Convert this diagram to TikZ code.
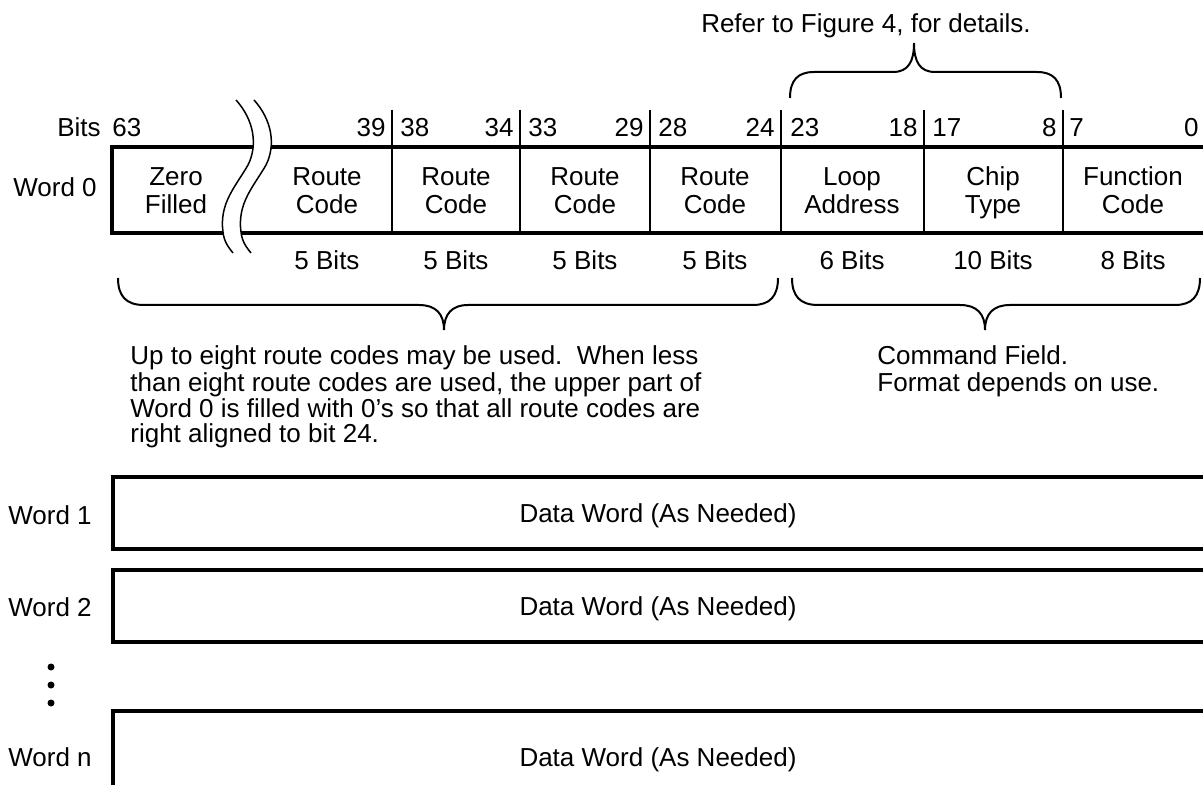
\documentclass[tikz,border=0pt]{standalone}
\usepackage{fontspec}
\setmainfont{Liberation Sans}
\begin{document}
\begin{tikzpicture}[x=0.5pt,y=-0.5pt,
  lbl/.style={font=\fontsize{13}{15}\selectfont, inner sep=0pt, anchor=base},
  lblw/.style={lbl, anchor=base west},
  lble/.style={lbl, anchor=base east},
  boxline/.style={line width=2pt},
  divline/.style={line width=0.75pt},
  brace/.style={line width=1pt},
  breakline/.style={line width=0.75pt}]
\useasboundingbox (0,0) rectangle (1203,785);

% ---- Word 0 box ----
\draw[boxline] (1215,147) -- (112,147) -- (112,233) -- (1215,233);
\foreach \xx in {392,520,650,924,1063}{
  \draw[divline] (\xx,110) -- (\xx,233);
}
\draw[line width=1.3pt] (781,110) -- (781,233);

% break symbol
\fill[white] (236,100) .. controls (254,120) and (258,145) .. (248,165)
  .. controls (236,186) and (219,203) .. (223,232)
  .. controls (224,242) and (229,248) .. (233,253)
  -- (251,253) .. controls (247,248) and (242,242) .. (241,232)
  .. controls (237,203) and (254,186) .. (266,165)
  .. controls (276,145) and (272,120) .. (254,100) -- cycle;
\draw[breakline] (236,100) .. controls (254,120) and (258,145) .. (248,165)
  .. controls (236,186) and (219,203) .. (223,232)
  .. controls (224,242) and (229,248) .. (233,253);
\draw[breakline] (254,100) .. controls (272,120) and (276,145) .. (266,165)
  .. controls (254,186) and (237,203) .. (241,232)
  .. controls (242,242) and (247,248) .. (251,253);

% bit numbers
\node[lble] (bits) at (101,137) {Bits};
\node[lblw] (b63) at (112,137) {63};
\node[lble] (b39) at (386,137) {39};
\node[lblw] (b38) at (400,137) {38};
\node[lble] (b34) at (514,137) {34};
\node[lblw] (b33) at (528,137) {33};
\node[lble] (b29) at (644,137) {29};
\node[lblw] (b28) at (658,137) {28};
\node[lble] (b24) at (775,137) {24};
\node[lblw] (b23) at (790,137) {23};
\node[lble] (b18) at (918,137) {18};
\node[lblw] (b17) at (932,137) {17};
\node[lble] (b8) at (1057,137) {8};
\node[lblw] (b7) at (1069,137) {7};
\node[lble] (b0) at (1199,137) {0};

% field texts
\node[lbl] (zf1) at (176,186) {Zero};
\node[lbl] (zf2) at (176,214) {Filled};
\foreach \xx/\nm in {327/ra,456/rb,585/rc,715/rd}{
  \node[lbl] (\nm1) at (\xx,186) {Route};
  \node[lbl] (\nm2) at (\xx,214) {Code};
  \node[lbl] (\nm3) at (\xx,270) {5 Bits};
}
\node[lbl] (la1) at (852,186) {Loop};
\node[lbl] (la2) at (852,214) {Address};
\node[lbl] (la3) at (852,270) {6 Bits};
\node[lbl] (ct1) at (993,186) {Chip};
\node[lbl] (ct2) at (993,214) {Type};
\node[lbl] (ct3) at (993,270) {10 Bits};
\node[lbl] (fc1) at (1133,186) {Function};
\node[lbl] (fc2) at (1133,214) {Code};
\node[lbl] (fc3) at (1133,270) {8 Bits};

% top brace and note
\draw[brace] (790,98) .. controls (790,80) and (798,72) .. (814,72) -- (893,72)
  .. controls (908,72) and (914,62) .. (914,43)
  .. controls (914,62) and (920,72) .. (935,72) -- (1037,72)
  .. controls (1053,72) and (1061,80) .. (1061,98);
\node[lbl] (refer) at (866,33) {Refer to Figure 4, for details.};

% bottom braces
\draw[brace] (118,278) .. controls (118,296) and (126,305) .. (144,305) -- (419,305)
  .. controls (436,305) and (444,314) .. (444,330)
  .. controls (444,314) and (452,305) .. (468,305) -- (753,305)
  .. controls (770,305) and (778,296) .. (778,278);
\draw[brace] (792,278) .. controls (792,296) and (800,305) .. (818,305) -- (960,305)
  .. controls (977,305) and (985,314) .. (985,330)
  .. controls (985,314) and (993,305) .. (1010,305) -- (1175,305)
  .. controls (1192,305) and (1200,296) .. (1200,278);

% explanation texts
\node[lblw] (t1) at (130,365) {Up to eight route codes may be used.\ \ When less};
\node[lblw] (t2) at (130,392) {than eight route codes are used, the upper part of};
\node[lblw] (t3) at (130,418) {Word 0 is filled with 0’s so that all route codes are};
\node[lblw] (t4) at (130,443) {right aligned to bit 24.};
\node[lblw] (c1) at (877,365) {Command Field.};
\node[lblw] (c2) at (877,392) {Format depends on use.};

% word labels
\node[lblw] (w0) at (13,197) {Word 0};
\node[lblw] (w1) at (8,524) {Word 1};
\node[lblw] (w2) at (8,616) {Word 2};
\node[lblw] (wn) at (8,766) {Word n};

% data word boxes
\draw[boxline] (1215,477) -- (113,477) -- (113,549) -- (1215,549);
\draw[boxline] (1215,570) -- (113,570) -- (113,642) -- (1215,642);
\draw[boxline] (1215,711) -- (113,711) -- (113,800);
\node[lbl] (d1) at (658,522) {Data Word (As Needed)};
\node[lbl] (d2) at (658,615) {Data Word (As Needed)};
\node[lbl] (dn) at (658,766) {Data Word (As Needed)};

% vertical dots
\fill (51,667) circle[radius=1.75pt];
\fill (51,685) circle[radius=1.75pt];
\fill (51,703) circle[radius=1.75pt];
\end{tikzpicture}
\end{document}
